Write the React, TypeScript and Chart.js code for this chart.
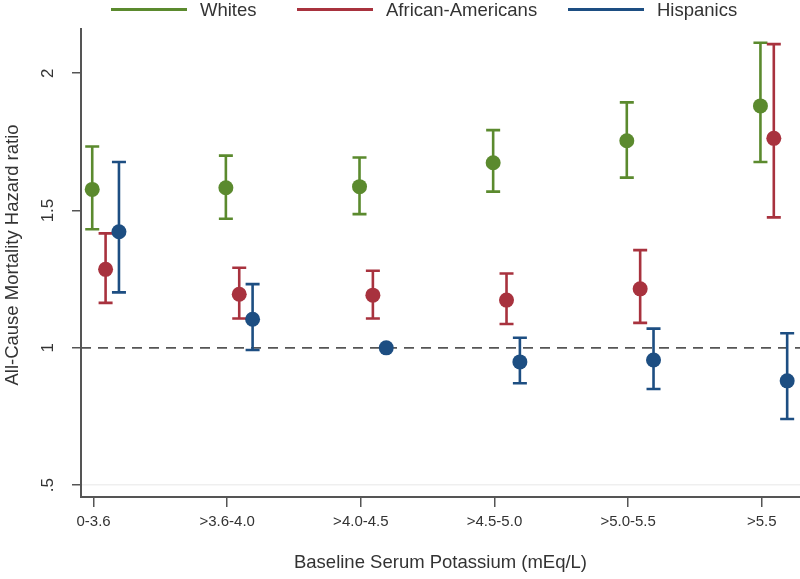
import React, { useEffect, useRef } from "react";
import { Chart, registerables } from "chart.js";

Chart.register(...registerables);

// ---- data ----
const categories = ["0-3.6", ">3.6-4.0", ">4.0-4.5", ">4.5-5.0", ">5.0-5.5", ">5.5"];
const seriesNames = ["Whites", "African-Americans", "Hispanics"];

const whitesHR = [1.577, 1.583, 1.587, 1.674, 1.754, 1.881];
const whitesLo = [1.432, 1.47, 1.487, 1.569, 1.62, 1.677];
const whitesHi = [1.733, 1.7, 1.693, 1.793, 1.894, 2.111];

const africanAmericansHR = [1.286, 1.195, 1.192, 1.174, 1.215, 1.763];
const africanAmericansLo = [1.164, 1.107, 1.107, 1.087, 1.091, 1.475];
const africanAmericansHi = [1.417, 1.292, 1.281, 1.271, 1.356, 2.106];

const hispanicsHR = [1.423, 1.104, 1.0, 0.949, 0.956, 0.88];
const hispanicsLo = [1.202, 0.992, null, 0.871, 0.85, 0.741];
const hispanicsHi = [1.677, 1.232, null, 1.037, 1.07, 1.053];

const yTickValues = [0.5, 1, 1.5, 2];
const yTickLabels = [".5", "1", "1.5", "2"];
const referenceHR = 1;

const xTitle = "Baseline Serum Potassium (mEq/L)";
const yTitle = "All-Cause Mortality Hazard ratio";

// ---- styles / layout ----
const FONT = "'Liberation Sans', Arial, Helvetica, sans-serif";
const TEXT = "#333333";
const AXIS = "#555555";
const COLORS = ["#5b8a2e", "#a8323e", "#1d4e82"];
const SERIES_OFFSET = [-0.01, 0.09, 0.19];
const LEGEND_X = [111, 297, 568];
const X_MIN = -0.094;
const X_MAX = 5.286;
const Y_MIN = 0.457;
const Y_MAX = 2.16;

const hrSets = [whitesHR, africanAmericansHR, hispanicsHR];
const loSets = [whitesLo, africanAmericansLo, hispanicsLo];
const hiSets = [whitesHi, africanAmericansHi, hispanicsHi];

const overlayPlugin = {
  id: "overlay",
  beforeDatasetsDraw(chart: any) {
    const { ctx, chartArea, scales } = chart;
    const xs = scales.x;
    const ys = scales.y;
    // reference line at HR = 1
    ctx.save();
    ctx.strokeStyle = AXIS;
    ctx.lineWidth = 1.6;
    ctx.setLineDash([10, 7]);
    const ry = ys.getPixelForValue(referenceHR);
    ctx.beginPath();
    ctx.moveTo(chartArea.left, ry);
    ctx.lineTo(chartArea.right, ry);
    ctx.stroke();
    ctx.restore();
    // confidence-interval bars
    chart.data.datasets.forEach((ds: any) => {
      ctx.save();
      ctx.strokeStyle = ds.borderColor;
      ctx.lineWidth = 2.6;
      ds.data.forEach((pt: any, i: number) => {
        const lo = ds.errLo[i];
        const hi = ds.errHi[i];
        if (lo == null || hi == null) return;
        const px = xs.getPixelForValue(pt.x);
        const pl = ys.getPixelForValue(lo);
        const ph = ys.getPixelForValue(hi);
        const cap = 7;
        ctx.beginPath();
        ctx.moveTo(px, pl);
        ctx.lineTo(px, ph);
        ctx.moveTo(px - cap, pl);
        ctx.lineTo(px + cap, pl);
        ctx.moveTo(px - cap, ph);
        ctx.lineTo(px + cap, ph);
        ctx.stroke();
      });
      ctx.restore();
    });
  },
  afterDraw(chart: any) {
    const { ctx, scales } = chart;
    const ys = scales.y;
    ctx.save();
    // rotated y tick labels
    ctx.fillStyle = TEXT;
    ctx.font = `17px ${FONT}`;
    ctx.textAlign = "center";
    ctx.textBaseline = "middle";
    yTickValues.forEach((v, i) => {
      const py = ys.getPixelForValue(v);
      ctx.save();
      ctx.translate(48, py);
      ctx.rotate(-Math.PI / 2);
      ctx.fillText(yTickLabels[i], 0, 0);
      ctx.restore();
    });
    // y title
    ctx.font = `18.5px ${FONT}`;
    ctx.save();
    ctx.translate(13, 255);
    ctx.rotate(-Math.PI / 2);
    ctx.fillText(yTitle, 0, 0);
    ctx.restore();
    // legend
    ctx.font = `18.5px ${FONT}`;
    const lineW = 76;
    const gapLT = 13;
    const ly = 9.5;
    chart.data.datasets.forEach((d: any, i: number) => {
      const x = LEGEND_X[i];
      ctx.strokeStyle = d.borderColor;
      ctx.lineWidth = 2.8;
      ctx.beginPath();
      ctx.moveTo(x, ly);
      ctx.lineTo(x + lineW, ly);
      ctx.stroke();
      ctx.fillStyle = TEXT;
      ctx.textAlign = "left";
      ctx.fillText(d.label, x + lineW + gapLT, ly + 1);
    });
    ctx.restore();
  },
};

export default function App() {
  const ref = useRef<HTMLCanvasElement | null>(null);

  useEffect(() => {
    if (!ref.current) return;
    const datasets = seriesNames.map((name, s) => ({
      label: name,
      data: hrSets[s].map((v, i) => ({ x: i + SERIES_OFFSET[s], y: v })),
      errLo: loSets[s],
      errHi: hiSets[s],
      borderColor: COLORS[s],
      backgroundColor: COLORS[s],
      pointBackgroundColor: COLORS[s],
      pointBorderWidth: 0,
      pointRadius: 7.5,
      pointHoverRadius: 7.5,
      showLine: false,
      clip: false,
    }));

    const chart = new Chart(ref.current, {
      type: "scatter",
      data: { datasets } as any,
      options: {
        animation: false,
        responsive: false,
        maintainAspectRatio: false,
        layout: { autoPadding: false, padding: { top: 29.3, left: 0, right: 0, bottom: 0 } },
        plugins: {
          legend: { display: false },
          tooltip: { enabled: false },
        },
        scales: {
          x: {
            type: "linear",
            min: X_MIN,
            max: X_MAX,
            afterBuildTicks: (scale: any) => {
              scale.ticks = categories.map((_, i) => ({ value: i }));
            },
            afterFit: (scale: any) => {
              scale.height = 82;
              scale.paddingLeft = 0;
              scale.paddingRight = 0;
            },
            ticks: {
              autoSkip: false,
              maxRotation: 0,
              minRotation: 0,
              padding: 6,
              color: TEXT,
              font: { family: FONT, size: 15 },
              callback: (v: any) => categories[Math.round(Number(v))],
            },
            grid: {
              drawOnChartArea: false,
              drawTicks: true,
              tickLength: 10,
              tickColor: AXIS,
              lineWidth: 1.5,
            },
            border: { display: true, color: AXIS, width: 2 },
            title: {
              display: true,
              text: xTitle,
              color: TEXT,
              font: { family: FONT, size: 18.5 },
              padding: { top: 0, bottom: 5 },
            },
          },
          y: {
            type: "linear",
            min: Y_MIN,
            max: Y_MAX,
            afterBuildTicks: (scale: any) => {
              scale.ticks = yTickValues.map((v) => ({ value: v }));
            },
            afterFit: (scale: any) => {
              scale.width = 81;
              scale.paddingTop = 0;
              scale.paddingBottom = 0;
            },
            ticks: { display: false },
            grid: {
              drawOnChartArea: true,
              drawTicks: true,
              tickLength: 9,
              tickColor: AXIS,
              lineWidth: 1.5,
              color: (c: any) =>
                c.tick && c.tick.value === 0.5 ? "#efefef" : "rgba(0,0,0,0)",
            },
            border: { display: true, color: AXIS, width: 2 },
          },
        },
      },
      plugins: [overlayPlugin],
    });
    return () => chart.destroy();
  }, []);

  return (
    <div style={{ position: "absolute", left: 0, top: 0, width: 800, height: 579, background: "#fff" }}>
      <canvas ref={ref} width={800} height={579} style={{ display: "block" }} />
    </div>
  );
}
